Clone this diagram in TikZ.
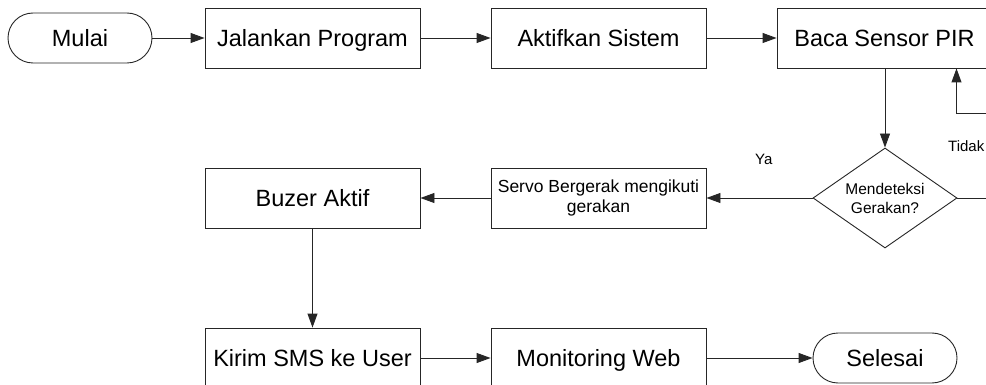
\documentclass[tikz,border=0pt]{standalone}
\usepackage{fontspec}
\setmainfont{Liberation Sans}
\usetikzlibrary{arrows.meta, positioning, shapes.geometric}

\begin{document}
\begin{tikzpicture}[
  x=1pt, y=-1pt,
  every node/.style={align=center, inner sep=0pt},
  proc/.style={
    rectangle, draw=black!85, line width=0.9pt, fill=white,
    minimum width=215pt, minimum height=60pt,
    font=\fontsize{23.5}{27}\selectfont
  },
  oneline/.style={text height=17.5pt, text depth=0pt},
  term/.style={
    rectangle, rounded corners=25pt, draw=black!85, line width=0.9pt,
    minimum width=144pt, minimum height=50pt, oneline,
    font=\fontsize{23.5}{27}\selectfont
  },
  decision/.style={
    diamond, aspect=1.44, draw=black!85, line width=0.9pt,
    minimum width=144pt, minimum height=100pt,
    font=\fontsize{15.5}{19}\selectfont
  },
  flow/.style={
    draw=black!85, line width=0.9pt,
    -{Triangle[length=14pt, width=10pt]}
  },
  lbl/.style={font=\fontsize{15}{18}\selectfont}
]
\useasboundingbox (0,0) rectangle (986,385);
\clip (0,0) rectangle (986,385);

\node[term] (start)  at (80, 38)    {Mulai};
\node[proc, oneline] (run)    at (312.5, 38) {Jalankan Program};
\node[proc, oneline] (act)    at (598.5, 38) {Aktifkan Sistem};
\node[proc, oneline] (sensor) at (884.5, 38) {Baca Sensor PIR};

\node[decision] (detect) at (885, 198) {Mendeteksi\\Gerakan?};
\node[proc, font=\fontsize{17.5}{20}\selectfont] (servo) at (598.5, 198) {Servo Bergerak mengikuti\\gerakan};
\node[proc, oneline] (buzer)  at (312.5, 198) {Buzer Aktif};

\node[proc, oneline] (sms)    at (312.5, 358) {Kirim SMS ke User};
\node[proc, oneline] (web)    at (598.5, 358) {Monitoring Web};
\node[term] (finish) at (885, 358)  {Selesai};

\draw[flow] (start) -- (run);
\draw[flow] (run) -- (act);
\draw[flow] (act) -- (sensor);
\draw[flow] (sensor.south -| detect.north) -- (detect.north);

\draw[flow] (detect.west) -- node[lbl, above=33pt, pos=0.46] (ya) {Ya} (servo.east);
\coordinate (turn) at (1000, 113);
\draw[flow] (detect.east) -| (turn) -| ([xshift=72pt]sensor.south);
\node[lbl, anchor=west] (tidak) at (948, 146) {Tidak};

\draw[flow] (servo) -- (buzer);
\draw[flow] (buzer) -- (sms);
\draw[flow] (sms) -- (web);
\draw[flow] (web) -- (finish);
\end{tikzpicture}
\end{document}
